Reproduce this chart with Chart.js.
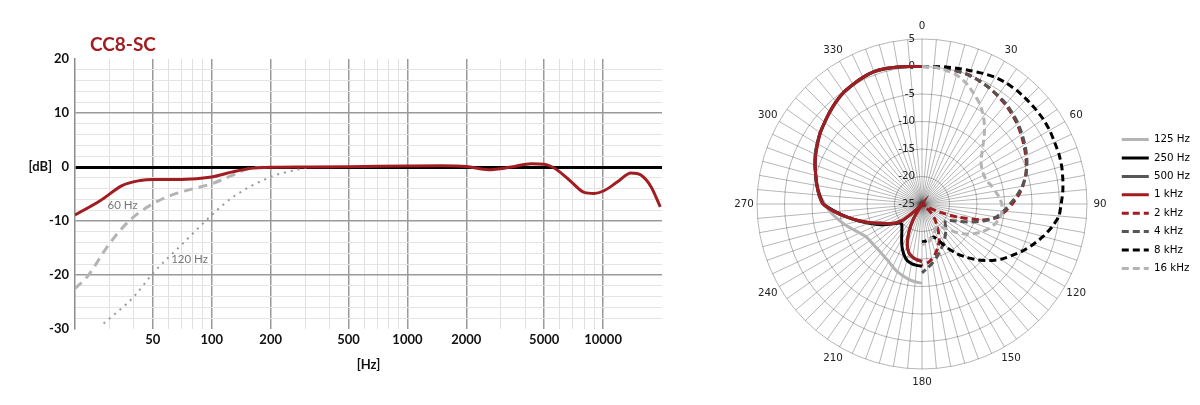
<!DOCTYPE html>
<html>
<head>
<meta charset="utf-8">
<script src="https://cdn.jsdelivr.net/npm/chart.js@4.4.1/dist/chart.umd.min.js"></script>
<style>
  html, body { margin: 0; padding: 0; background: #fff; }
  #wrap { position: relative; width: 1200px; height: 405px; }
  #freq { position: absolute; left: 0; top: 0; }
  #polar { position: absolute; left: 700px; top: 0; }
</style>
</head>
<body>
<div id="wrap">
  <canvas id="freq" width="700" height="405"></canvas>
  <canvas id="polar" width="500" height="405"></canvas>
</div>
<script>
//title of the frequency plot
let titleText = 'CC8-SC'

//frequency response of the mic (Hz / dB)
let responseHz = [20, 27, 35, 43, 50, 70, 100, 128, 155, 200, 300, 500, 1000, 1500, 2000, 2600, 3400, 4300, 5000, 5500, 6000, 6900, 8000, 9000, 10100, 11800, 13900, 15600, 17600, 19600]
let responseDb = [-8.9, -6.2, -3.4, -2.5, -2.3, -2.3, -1.85, -0.9, -0.3, -0.05, 0, 0.05, 0.2, 0.25, 0.1, -0.5, 0, 0.6, 0.5, 0, -0.9, -2.8, -4.7, -4.9, -4.4, -2.8, -1.1, -1.5, -3.7, -7.4]

//low cut filter curves
let lowCut60Hz = [20, 23, 30, 38, 50, 66, 100, 128, 155, 200]
let lowCut60Db = [-22.5, -20.4, -14.2, -9.9, -6.8, -4.9, -3.1, -1.5, -0.3, 0]
let lowCut120Hz = [28, 40, 50, 71, 100, 128, 200, 280, 315]
let lowCut120Db = [-29, -24, -19.7, -14.2, -8.9, -5.6, -1.85, -0.4, 0]

//little notes next to the filter curves
let curveNotes = [
    { text: '60 Hz', hz: 35, db: -7.1 },
    { text: '120 Hz', hz: 77, db: -17.1 }
]

//grid of the frequency plot
let hzGrid = [30, 40, 50, 60, 70, 80, 90, 100, 200, 300, 400, 500, 600, 700, 800, 900, 1000, 2000, 3000, 4000, 5000, 6000, 7000, 8000, 9000, 10000]
let hzLabels = [50, 100, 200, 500, 1000, 2000, 5000, 10000]
let dbGrid = [-30, -28, -26, -24, -22, -20, -18, -16, -14, -12, -10, -8, -6, -4, -2, 0, 2, 4, 6, 8, 10, 12, 14, 16, 18, 20]
let dbLabels = [20, 10, 0, -10, -20, -30]

//polar plot: one spoke every 5 degrees
let polarAngles = []
for (let a = 0; a < 360; a += 5) polarAngles.push(a)
let angleLabels = [0, 30, 60, 90, 120, 150, 180, 210, 240, 270, 300, 330]
let radialTicks = [5, 0, -5, -10, -15, -20, -25]

//solid curves, left half: 180, 185 ... 355, 360 degrees
let rear125 = [-10.6, -10.8, -11.1, -11.5, -11.9, -12.4, -12.9, -13.2, -13.4, -13.5, -13.5, -13.4, -13.2, -12.5, -11.6, -10.5, -9.4, -8.3, -7.3, -6.4, -5.7, -5.0, -4.4, -3.7, -3.1, -2.5, -1.9, -1.4, -0.8, -0.3, 0.0, 0.3, 0.5, 0.4, 0.2, 0.1, 0]
let rear250 = [-13.7, -13.8, -14.0, -14.4, -15.3, -16.4, -17.6, -18.6, -19.3, -19.8, -19.6, -18.7, -17.5, -16.2, -14.8, -13.1, -11.2, -9.2, -7.1, -6.3, -5.6, -5.0, -4.3, -3.6, -3.0, -2.4, -1.9, -1.3, -0.7, -0.2, 0.1, 0.4, 0.6, 0.5, 0.3, 0.1, 0]
let rear500 = [-14.5, -14.8, -15.2, -15.8, -17.1, -19.3, -21.8, -25, -25, -23.3, -20.4, -19.0, -17.8, -16.7, -15.0, -13.2, -11.2, -9.0, -7.0, -6.2, -5.6, -5.0, -4.3, -3.6, -3.0, -2.4, -1.9, -1.3, -0.7, -0.2, 0.1, 0.4, 0.6, 0.5, 0.3, 0.1, 0]
let rear1k = [-14.6, -14.8, -15.2, -15.8, -17.2, -19.4, -22.0, -25, -25, -23.4, -20.3, -19.0, -17.9, -16.8, -15.1, -13.2, -11.2, -9.0, -7.0, -6.2, -5.6, -5.0, -4.3, -3.7, -3.1, -2.4, -1.9, -1.3, -0.7, -0.2, 0.1, 0.4, 0.6, 0.5, 0.3, 0.1, 0]

//dashed curves, right half: 0, 5 ... 175, 180 degrees
let front2k = [0, 0, 0, 0, 0, -0.3, -0.6, -1.0, -1.4, -1.9, -2.4, -3.0, -3.6, -4.2, -4.8, -5.5, -6.4, -7.4, -8.6, -9.8, -11.0, -13.8, -18.0, -21.5, -24.0, -25, -24.0, -22.5, -21.3, -20.3, -19.0, -17.6, -16.6, -15.6, -14.8, -14.2, -13.9]
let front4k = [0, 0, 0, 0, -0.1, -0.3, -0.6, -0.9, -1.2, -1.7, -2.2, -2.8, -3.4, -4.0, -4.7, -5.5, -6.5, -7.7, -9.0, -10.1, -11.3, -13.2, -15.4, -17.5, -19.0, -19.7, -19.5, -18.9, -18.3, -17.7, -17.1, -16.4, -15.7, -14.9, -14.1, -13.3, -12.5]
let front8k = [0, 0.1, 0.3, 0.5, 0.8, 1.2, 1.6, 1.8, 1.9, 1.9, 1.9, 1.9, 1.8, 1.6, 1.5, 1.3, 1.0, 0.7, 0.3, 0.0, -1.0, -2.2, -3.5, -4.8, -6.2, -7.5, -9.0, -10.6, -12.3, -14.0, -15.8, -17.6, -18.6, -18.6, -18.4, -18.2, -18.1]
let front16k = [0, 0, -0.3, -0.7, -1.6, -2.8, -4.0, -5.5, -7.3, -9.2, -10.8, -11.9, -12.4, -12.6, -12.5, -12.0, -11.5, -10.9, -10.5, -10.4, -10.6, -11.2, -12.0, -13.0, -14.2, -15.5, -17.0, -18.5, -19.5, -20.0, -20.0, -19.5, -19.0, -18.5, -18.0, -17.8, -17.6]

//colours
let darkRed = '#a21d21'
let lightGray = '#b4b4b4'
let midGray = '#555555'

//turning the x/y lists into points for the scatter lines
let toPoints = function(xs, ys) {
    return xs.map((x, i) => ({ x: x, y: ys[i] }))
}

//writing the title and the curve notes on the frequency plot
let freqText = {
    id: 'freqText',
    afterDatasetsDraw(chart) {
        let ctx = chart.ctx
        ctx.save()
        ctx.font = 'bold 19px Lato'
        ctx.fillStyle = darkRed
        ctx.textBaseline = 'middle'
        ctx.fillText(titleText, chart.chartArea.left + 15, 45)
        ctx.font = '11.5px Lato'
        ctx.fillStyle = '#777'
        ctx.textAlign = 'center'
        curveNotes.forEach(n => {
            ctx.fillText(n.text, chart.scales.x.getPixelForValue(n.hz), chart.scales.y.getPixelForValue(n.db))
        })
        ctx.restore()
    }
}

let boldFont = { family: 'Lato', weight: 'bold', size: 13 }

let freqChart = new Chart(document.getElementById('freq'), {
    type: 'scatter',
    data: {
        datasets: [
            {
                label: 'response',
                data: toPoints(responseHz, responseDb),
                borderColor: darkRed,
                borderWidth: 3,
                order: 1
            },
            {
                label: '60 Hz',
                data: toPoints(lowCut60Hz, lowCut60Db),
                borderColor: lightGray,
                borderWidth: 3,
                borderDash: [9, 6],
                order: 2
            },
            {
                label: '120 Hz',
                data: toPoints(lowCut120Hz, lowCut120Db),
                borderColor: '#999',
                borderWidth: 2,
                borderDash: [2, 5],
                order: 3
            }
        ]
    },
    options: {
        responsive: false,
        animation: false,
        events: [],
        showLine: true,
        elements: {
            point: { radius: 0 },
            line: { cubicInterpolationMode: 'monotone', fill: false }
        },
        layout: { padding: { top: 59, right: 38, bottom: 0, left: 0 } },
        plugins: { legend: { display: false }, tooltip: { enabled: false } },
        scales: {
            x: {
                type: 'logarithmic',
                min: 20,
                max: 20000,
                afterBuildTicks: s => { s.ticks = hzGrid.map(v => ({ value: v })) },
                afterFit: s => { s.height = 76 },
                border: { display: false },
                grid: {
                    drawTicks: false,
                    color: c => hzLabels.includes(c.tick.value) ? '#9a9a9a' : '#e0e0e0',
                    lineWidth: c => hzLabels.includes(c.tick.value) ? 1.5 : 1
                },
                ticks: {
                    autoSkip: false,
                    maxRotation: 0,
                    padding: 3,
                    color: '#111',
                    font: boldFont,
                    callback: v => hzLabels.includes(v) ? String(v) : ''
                },
                title: {
                    display: true,
                    text: '[Hz]',
                    color: '#111',
                    font: boldFont,
                    padding: { top: 0, bottom: 32 }
                }
            },
            y: {
                min: -30,
                max: 20,
                afterBuildTicks: s => { s.ticks = dbGrid.map(v => ({ value: v })) },
                afterFit: s => { s.width = 75 },
                border: { display: true, color: '#8c8c8c', width: 1.5 },
                grid: {
                    drawTicks: false,
                    color: c => {
                        let v = c.tick.value
                        if (v === 0) return '#000'
                        if (v === 20 || v === -30) return 'rgba(0,0,0,0)'
                        return v % 10 === 0 ? '#9a9a9a' : '#e4e4e4'
                    },
                    lineWidth: c => c.tick.value === 0 ? 3 : (c.tick.value % 10 === 0 ? 1.5 : 1)
                },
                ticks: {
                    autoSkip: false,
                    padding: 6,
                    color: '#111',
                    font: boldFont,
                    callback: v => dbLabels.includes(v) ? (v === 0 ? '[dB]   0' : String(v)) : ''
                }
            }
        }
    },
    plugins: [freqText]
})

//spreading a half-circle list over all 72 spokes, null where the curve is not drawn
let rearRing = function(values) {
    return polarAngles.map((a, i) => i === 0 ? values[36] : (i >= 36 ? values[i - 36] : null))
}
let frontRing = function(values) {
    return polarAngles.map((a, i) => i <= 36 ? values[i] : null)
}

//angle and level labels of the polar plot
let polarText = {
    id: 'polarText',
    beforeDatasetsDraw(chart) {
        let s = chart.scales.r
        let ctx = chart.ctx
        ctx.save()
        ctx.font = '10.3px "DejaVu Sans"'
        ctx.fillStyle = '#222'
        ctx.textBaseline = 'middle'
        ctx.textAlign = 'right'
        radialTicks.forEach(v => {
            ctx.fillText(String(v), s.xCenter - 7, s.yCenter - s.getDistanceFromCenterForValue(v))
        })
        ctx.textAlign = 'center'
        angleLabels.forEach(a => {
            let p = s.getPointPosition(polarAngles.indexOf(a), s.drawingArea + 13)
            ctx.fillText(String(a), p.x, p.y)
        })
        ctx.restore()
    }
}

let polarSeries = [
    { label: '125 Hz', data: rearRing(rear125), color: lightGray, dash: [] },
    { label: '250 Hz', data: rearRing(rear250), color: '#000', dash: [] },
    { label: '500 Hz', data: rearRing(rear500), color: midGray, dash: [] },
    { label: '1 kHz', data: rearRing(rear1k), color: darkRed, dash: [] },
    { label: '2 kHz', data: frontRing(front2k), color: darkRed, dash: [7, 4] },
    { label: '4 kHz', data: frontRing(front4k), color: midGray, dash: [7, 4] },
    { label: '8 kHz', data: frontRing(front8k), color: '#000', dash: [7, 4] },
    { label: '16 kHz', data: frontRing(front16k), color: lightGray, dash: [7, 4] }
]

let polarChart = new Chart(document.getElementById('polar'), {
    type: 'radar',
    data: {
        labels: polarAngles,
        datasets: polarSeries.map((d, i) => ({
            label: d.label,
            data: d.data,
            borderColor: d.color,
            backgroundColor: d.color,
            borderDash: d.dash,
            borderWidth: 3,
            fill: false,
            tension: 0.2,
            spanGaps: false,
            pointRadius: 0,
            order: polarSeries.length - i
        }))
    },
    options: {
        responsive: false,
        animation: false,
        events: [],
        layout: { padding: { top: 39, right: 0, bottom: 36, left: 32 } },
        plugins: {
            tooltip: { enabled: false },
            legend: {
                position: 'right',
                labels: {
                    color: '#222',
                    font: { family: 'DejaVu Sans', size: 10.3 },
                    padding: 8.1,
                    usePointStyle: true,
                    pointStyle: 'line',
                    pointStyleWidth: 27,
                    generateLabels: chart => chart.data.datasets.map((ds, i) => ({
                        text: ds.label,
                        strokeStyle: ds.borderColor,
                        fillStyle: ds.borderColor,
                        lineWidth: 3,
                        lineDash: ds.borderDash,
                        pointStyle: 'line',
                        hidden: false,
                        datasetIndex: i
                    }))
                }
            }
        },
        scales: {
            r: {
                min: -25,
                max: 5,
                ticks: { stepSize: 5, display: false },
                pointLabels: { display: false },
                grid: { circular: true, color: 'rgba(0,0,0,0.36)', lineWidth: 0.8 },
                angleLines: { color: 'rgba(0,0,0,0.36)', lineWidth: 0.8 }
            }
        }
    },
    plugins: [polarText]
})
</script>
</body>
</html>
